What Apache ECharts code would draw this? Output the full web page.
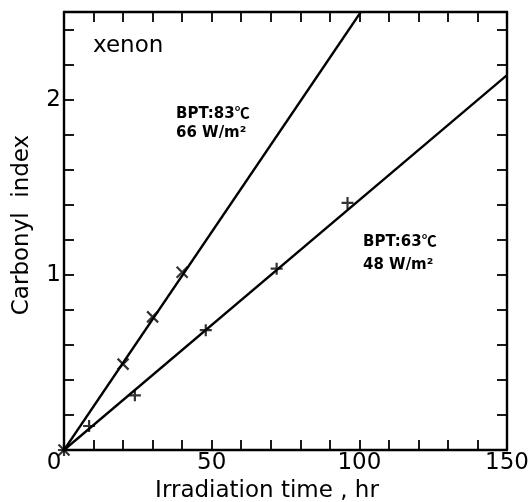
<!DOCTYPE html>
<html>
<head>
<meta charset="utf-8">
<script src="https://cdn.jsdelivr.net/npm/echarts@6/dist/echarts.min.js"></script>
<style>
  html, body { margin: 0; padding: 0; background: #fff; }
  #chart { width: 530px; height: 502px; }
</style>
</head>
<body>
<div id="chart"></div>
<script>
// measured points, BPT 83C / 66 W/m2 (x marks)
var pts83 = [[0, 0], [20, 0.49], [30, 0.76], [40, 1.015]];
// measured points, BPT 63C / 48 W/m2 (+ marks)
var pts63 = [[0, 0], [8.5, 0.137], [24, 0.312], [48, 0.684], [72, 1.035], [96, 1.41]];
// fitted lines, end points
var fit83 = [[0, 0], [100.5, 2.5]];
var fit63 = [[0, 0], [150, 2.14]];

var xLabels = [0, 50, 100, 150];
var yLabels = [1, 2];

var font = 'DejaVu Sans';
var crossX = 'path://M0,0L10,10M10,0L0,10';
var crossPlus = 'path://M5,0L5,10M0,5L10,5';

var dom = document.getElementById('chart');
var myChart = echarts.init(dom);

function hasLabel(list, v) {
  for (var i = 0; i < list.length; i++) {
    if (Math.abs(list[i] - v) < 1e-6) return true;
  }
  return false;
}

var lineCol = '#000';
var axisCommon = {
  type: 'value',
  splitLine: { show: false },
  axisLine: { show: true, onZero: false, lineStyle: { color: lineCol, width: 2.4 } },
  axisTick: { show: true, inside: true, length: 10, lineStyle: { color: lineCol, width: 1.8 } }
};

// annotation text with a full width degree-Celsius sign
var noteRich = {
  b: { fontFamily: font, fontWeight: 'bold', fontSize: 15, color: '#000' },
  c: { fontFamily: 'Noto Sans CJK SC', fontWeight: 'bold', fontSize: 15, color: '#000', padding: [0, 0, 4, 0] }
};
function note(x, y, txt) {
  return { type: 'text', x: x, y: y, style: { text: txt, rich: noteRich, verticalAlign: 'middle' } };
}

var option = {
  animation: false,
  backgroundColor: '#fff',
  grid: { left: 64, right: 23, top: 12, bottom: 52, containLabel: false, outerBoundsMode: 'none' },
  xAxis: [
    Object.assign({}, axisCommon, {
      min: 0, max: 150, interval: 10, position: 'bottom',
      name: 'Irradiation time , hr',
      nameLocation: 'middle',
      nameGap: 27,
      nameTextStyle: { fontFamily: font, fontSize: 23, color: '#000', padding: [0, 37, 0, 0] },
      axisLabel: {
        margin: 2,
        color: '#000', fontFamily: font, fontSize: 23,
        formatter: function (v) {
          if (v === 0) return '{z|0}';
          return hasLabel(xLabels, v) ? String(v) : '';
        },
        rich: { z: { fontFamily: font, fontSize: 23, color: '#000', padding: [0, 20, 0, 0] } }
      }
    }),
    Object.assign({}, axisCommon, {
      min: 0, max: 150, interval: 10, position: 'top',
      axisLabel: { show: false }
    })
  ],
  yAxis: [
    Object.assign({}, axisCommon, {
      min: 0, max: 2.5, interval: 0.2, position: 'left',
      name: 'Carbonyl  index',
      nameLocation: 'middle',
      nameGap: 30,
      nameTextStyle: { fontFamily: font, fontSize: 23, color: '#000', padding: [0, 0, 0, 12] },
      axisLabel: {
        margin: 3,
        color: '#000', fontFamily: font, fontSize: 23,
        formatter: function (v) {
          return hasLabel(yLabels, v) ? String(Math.round(v)) : '';
        }
      }
    }),
    Object.assign({}, axisCommon, {
      min: 0, max: 2.5, interval: 0.2, position: 'right',
      axisLabel: { show: false }
    })
  ],
  graphic: [
    { type: 'text', x: 93, y: 46, style: { text: 'xenon', font: '23px "DejaVu Sans"', fill: '#000', verticalAlign: 'middle' } },
    note(176, 114, '{b|BPT:83}{c|℃}'),
    note(176, 133, '{b|66 W/m²}'),
    note(363, 242, '{b|BPT:63}{c|℃}'),
    note(363, 265, '{b|48 W/m²}')
  ],
  series: [
    {
      name: 'fit 83', type: 'line', data: fit83, showSymbol: false, silent: true,
      lineStyle: { color: '#000', width: 2.3 }
    },
    {
      name: 'fit 63', type: 'line', data: fit63, showSymbol: false, silent: true,
      lineStyle: { color: '#000', width: 2.3 }
    },
    {
      name: 'BPT:83', type: 'scatter', data: pts83, symbol: crossX, symbolSize: 11,
      itemStyle: { color: 'none', borderColor: '#000', borderWidth: 2.2 }
    },
    {
      name: 'BPT:63', type: 'scatter', data: pts63, symbol: crossPlus, symbolSize: 12,
      itemStyle: { color: 'none', borderColor: '#000', borderWidth: 2.2 }
    }
  ]
};

if (option && typeof option === 'object') {
  myChart.setOption(option);
}
</script>
</body>
</html>
